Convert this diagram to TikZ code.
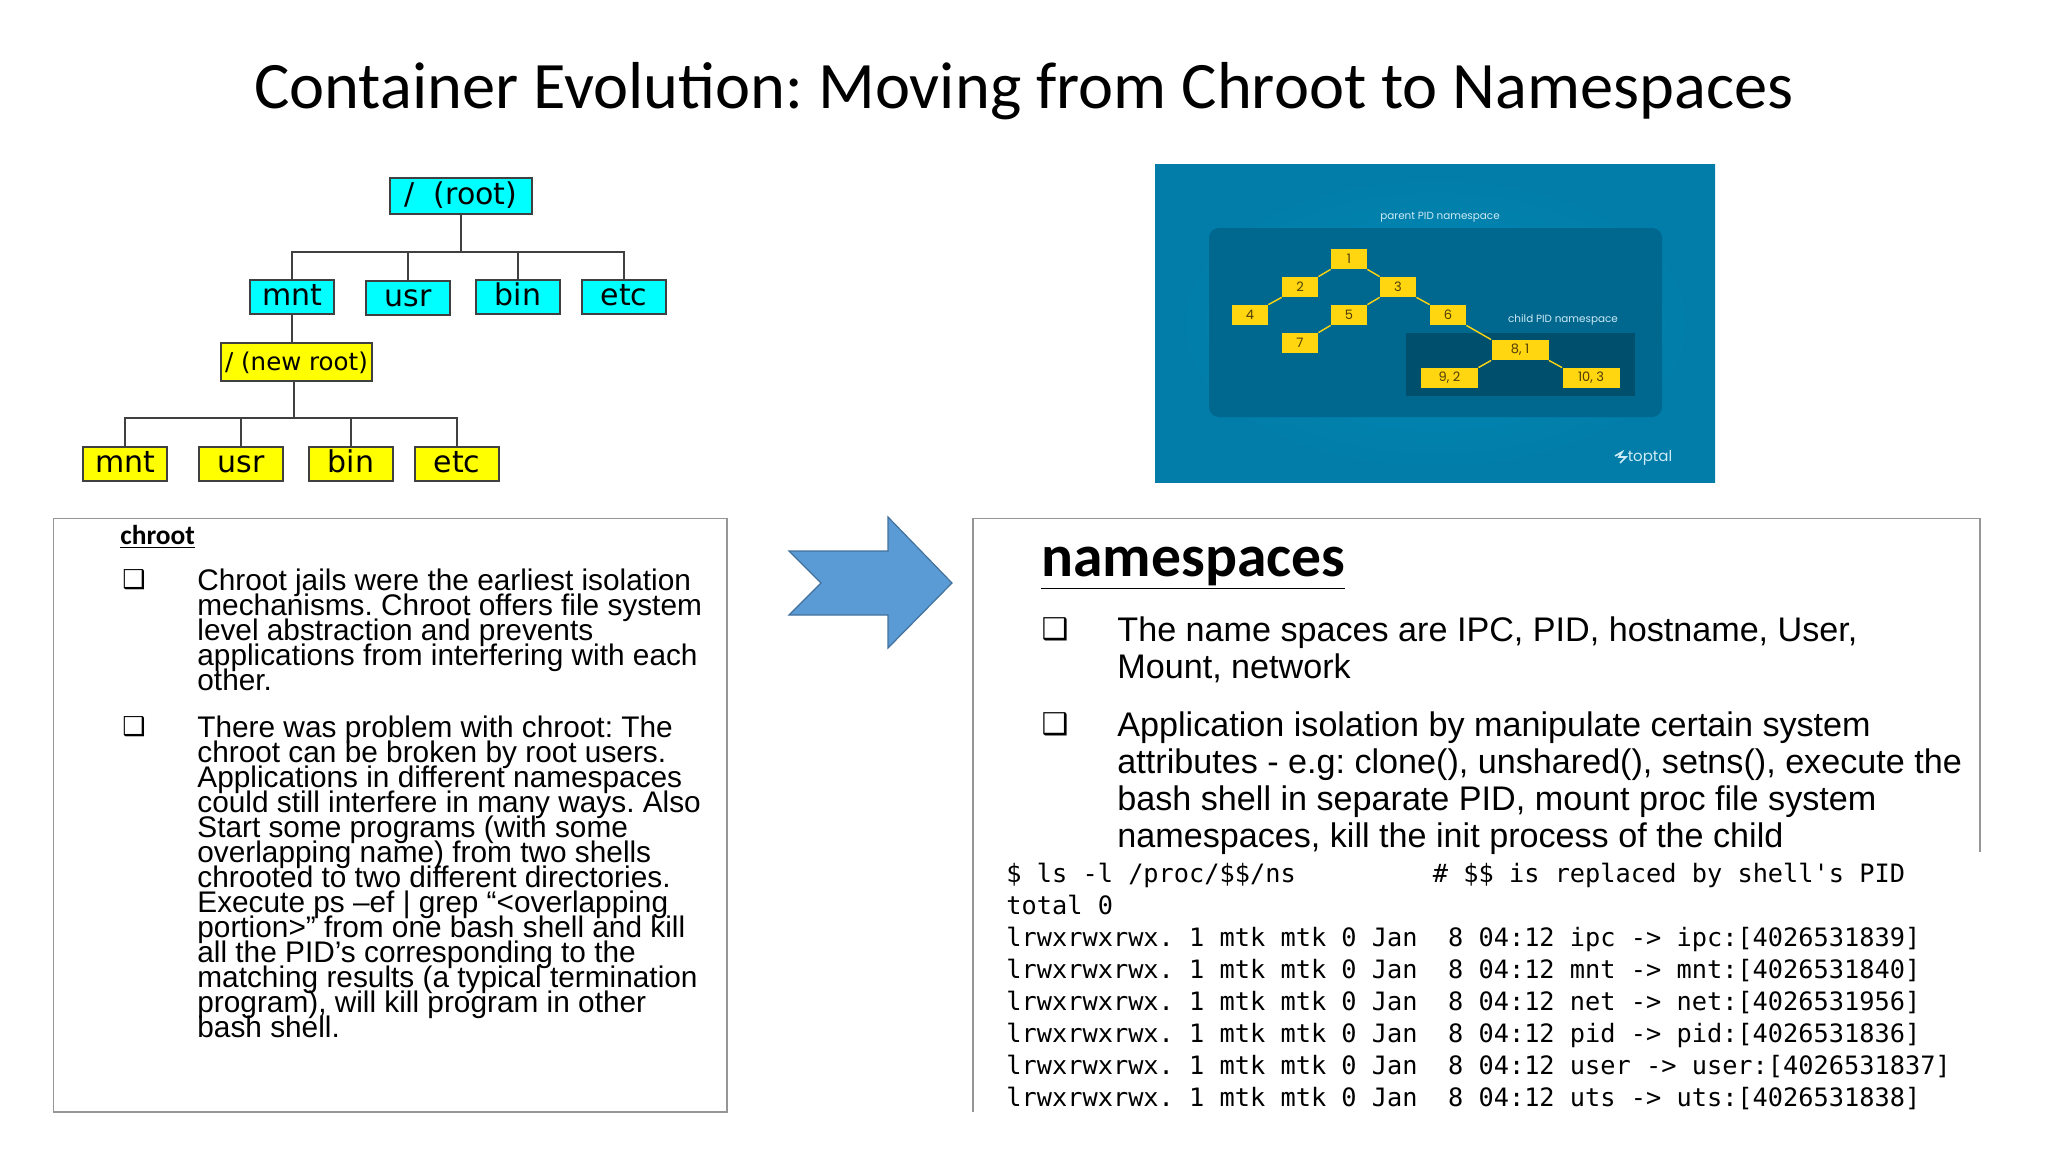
\documentclass[tikz,border=0pt]{standalone}
\usepackage{fontspec}
\usetikzlibrary{positioning}
\setmainfont{Liberation Sans}
\newfontfamily\titlefont{Carlito}
\newfontfamily\treefont{DejaVu Sans}
\newfontfamily\symfont{DejaVu Sans}
\newfontfamily\termfont{DejaVu Sans Mono}
\newfontfamily\pidfont{Poppins}
\newcommand{\tightlines}{\lineskiplimit=-20pt\relax}
\frenchspacing
\definecolor{treecyan}{RGB}{0, 255, 255}
\definecolor{treeyellow}{RGB}{255, 255, 0}
\definecolor{framegray}{RGB}{150, 150, 150}
\definecolor{arrowblue}{RGB}{91, 155, 213}
\definecolor{arrowedge}{RGB}{65, 113, 156}
\definecolor{pidback}{RGB}{0, 138, 182}
\definecolor{pidcorner}{RGB}{2, 124, 168}
\definecolor{pidpanel}{RGB}{0, 103, 143}
\definecolor{pidchild}{RGB}{0, 79, 109}
\definecolor{pidyellow}{RGB}{255, 214, 15}
\definecolor{pidtext}{RGB}{80, 60, 10}
\definecolor{pidlabel}{RGB}{205, 235, 245}

\begin{document}
\begin{tikzpicture}[
    x=0.5pt, y=-0.5pt,
    treebox/.style={draw=black!75, line width=0.8pt, inner sep=0pt, minimum width=42pt, minimum height=17pt, text height=11pt, text depth=3pt, font=\treefont\frenchspacing\fontsize{15}{18}\selectfont},
    cyanbox/.style={treebox, fill=treecyan},
    yellowbox/.style={treebox, fill=treeyellow},
    treeline/.style={draw=black!75, line width=0.8pt},
    pidbox/.style={fill=pidyellow, inner sep=0pt, minimum width=18pt, minimum height=10pt, text=pidtext, font=\pidfont\fontsize{6.5}{7}\selectfont},
    pidwide/.style={pidbox, minimum width=28.5pt},
    pidline/.style={draw=pidyellow, line width=0.7pt},
    pidcaption/.style={text=pidlabel, inner sep=0pt, font=\pidfont\fontsize{5.2}{6}\selectfont},
    bodytext/.style={anchor=north west, align=left, inner sep=0pt, font=\frenchspacing\fontsize{14.9}{12.5}\selectfont\tightlines},
    nstext/.style={anchor=north west, align=left, inner sep=0pt, font=\frenchspacing\fontsize{17.07}{18.5}\selectfont\tightlines},
    bulletmark/.style={inner sep=0pt, font=\symfont\bfseries\fontsize{13}{14}\selectfont}
]
    \useasboundingbox (0,0) rectangle (2048,1152);

    % title
    \node[font=\titlefont\frenchspacing\fontsize{33.2}{38}\selectfont, inner sep=0pt] (title) at (1024,91) {Container Evolution: Moving from Chroot to Namespaces};

    % root tree
    \node[cyanbox, minimum width=71pt, minimum height=18pt] (root) at (461,196) {/\ \ (root)};
    \node[cyanbox] (mnta) at (292,297) {mnt};
    \node[cyanbox] (usra) at (408,298) {usr};
    \node[cyanbox] (bina) at (518,297) {bin};
    \node[cyanbox] (etca) at (624,297) {etc};
    \coordinate (rootbar) at (461,252);
    \draw[treeline] (root.south) -- (rootbar);
    \draw[treeline] (mnta.north) |- (rootbar);
    \draw[treeline] (usra.north) |- (rootbar);
    \draw[treeline] (bina.north) |- (rootbar);
    \draw[treeline] (etca.north) |- (rootbar);

    % new root tree
    \node[yellowbox, minimum width=75.5pt, minimum height=19pt, font=\treefont\fontsize{12.25}{15}\selectfont] (newroot) at (296.5,362) {/ (new root)};
    \node[yellowbox] (mntb) at (125,464) {mnt};
    \node[yellowbox] (usrb) at (241,464) {usr};
    \node[yellowbox] (binb) at (351,464) {bin};
    \node[yellowbox] (etcb) at (457,464) {etc};
    \coordinate (newbar) at (294,418);
    \draw[treeline] (mnta.south) -- (newroot.north -| mnta.south);
    \draw[treeline] (newroot.south -| newbar) -- (newbar);
    \draw[treeline] (mntb.north) |- (newbar);
    \draw[treeline] (usrb.north) |- (newbar);
    \draw[treeline] (binb.north) |- (newbar);
    \draw[treeline] (etcb.north) |- (newbar);

    % pid namespace picture
    \shade[inner color=pidback, outer color=pidcorner] (1155,164) rectangle (1715,482);
    \fill[pidpanel, rounded corners=5pt] (1209,228) rectangle (1662,417);
    \fill[pidchild] (1406,333) rectangle (1635,396);
    \node[pidcaption] (parentlabel) at (1440,217) {parent PID namespace};
    \node[pidcaption] (childlabel) at (1563,320) {child PID namespace};
    \node[pidbox] (p1) at (1349,259) {1};
    \node[pidbox] (p2) at (1300,287) {2};
    \node[pidbox] (p3) at (1398,287) {3};
    \node[pidbox] (p4) at (1250,315) {4};
    \node[pidbox] (p5) at (1349,315) {5};
    \node[pidbox] (p6) at (1448,315) {6};
    \node[pidbox] (p7) at (1300,343) {7};
    \node[pidwide] (p8) at (1520,350) {8, 1};
    \node[pidwide] (p9) at (1449.5,378) {9, 2};
    \node[pidwide] (p10) at (1591,378) {10, 3};
    \draw[pidline] (p1.south west) -- (p2.north east);
    \draw[pidline] (p1.south east) -- (p3.north west);
    \draw[pidline] (p2.south west) -- (p4.north east);
    \draw[pidline] (p3.south west) -- (p5.north east);
    \draw[pidline] (p3.south east) -- (p6.north west);
    \draw[pidline] (p5.south west) -- (p7.north east);
    \draw[pidline] (p6.south east) -- (p8.north west);
    \draw[pidline] (p8.south west) -- (p9.north east);
    \draw[pidline] (p8.south east) -- (p10.north west);
    \node[text=pidlabel, inner sep=0pt, font=\pidfont\fontsize{7.5}{9}\selectfont] (toptal) at (1650,458) {toptal};
    \draw[pidlabel, line width=0.8pt] (1615,456) -- (1622,452) -- (1619,457) -- (1626,457) -- (1620,463);

    % chroot box
    \draw[framegray, line width=0.6pt] (53.5,518.5) rectangle (727,1112);
    \node[anchor=base west, inner sep=0pt, font=\titlefont\bfseries\fontsize{13.7}{16}\selectfont] (chroothead) at (120,544) {\underline{chroot}};
    \node[bulletmark] (chrootmarka) at (134,580) {❑};
    \node[bodytext] (chroota) at (197,568) {Chroot jails were the earliest isolation\\mechanisms. Chroot offers file system\\level abstraction and prevents\\applications from interfering with each\\other.};
    \node[bulletmark] (chrootmarkb) at (134,727) {❑};
    \node[bodytext] (chrootb) at (197,715) {There was problem with chroot: The\\chroot can be broken by root users.\\Applications in different namespaces\\could still interfere in many ways. Also\\Start some programs (with some\\overlapping name) from two shells\\chrooted to two different directories.\\Execute ps –ef | grep “<overlapping\\portion>” from one bash shell and kill\\all the PID’s corresponding to the\\matching results (a typical termination\\program), will kill program in other\\bash shell.};

    % arrow
    \draw[arrowedge, fill=arrowblue, line width=0.6pt] (789,551) -- (888,551) -- (888,517) -- (952,583) -- (888,648) -- (888,615) -- (789,615) -- (821,583) -- cycle;

    % namespaces box
    \draw[framegray, line width=0.6pt] (973,1112) -- (973,518.5) -- (1980,518.5) -- (1980,852);
    \node[anchor=base west, inner sep=0pt, font=\titlefont\bfseries\fontsize{29.8}{34}\selectfont] (nshead) at (1041,576) {\underline{namespaces}};
    \node[bulletmark, font=\symfont\bfseries\fontsize{15}{16}\selectfont] (nsmarka) at (1055,629) {❑};
    \node[nstext] (nsa) at (1117,616) {The name spaces are IPC, PID, hostname, User,\\Mount, network};
    \node[bulletmark, font=\symfont\bfseries\fontsize{15}{16}\selectfont] (nsmarkb) at (1055,724) {❑};
    \node[nstext] (nsb) at (1117,711) {Application isolation by manipulate certain system\\attributes - e.g: clone(), unshared(), setns(), execute the\\bash shell in separate PID, mount proc file system\\namespaces, kill the init process of the child};

    % terminal output
    \node[anchor=north west, align=left, inner sep=0pt, font=\termfont\frenchspacing\fontsize{12.65}{15.95}\selectfont\tightlines] (terminal) at (1006,863) {\$ ls -l /proc/\$\$/ns\ \ \ \ \ \ \ \ \ \# \$\$ is replaced by shell's PID\\total 0\\lrwxrwxrwx. 1 mtk mtk 0 Jan\ \ 8 04:12 ipc -> ipc:[4026531839]\\lrwxrwxrwx. 1 mtk mtk 0 Jan\ \ 8 04:12 mnt -> mnt:[4026531840]\\lrwxrwxrwx. 1 mtk mtk 0 Jan\ \ 8 04:12 net -> net:[4026531956]\\lrwxrwxrwx. 1 mtk mtk 0 Jan\ \ 8 04:12 pid -> pid:[4026531836]\\lrwxrwxrwx. 1 mtk mtk 0 Jan\ \ 8 04:12 user -> user:[4026531837]\\lrwxrwxrwx. 1 mtk mtk 0 Jan\ \ 8 04:12 uts -> uts:[4026531838]};
\end{tikzpicture}
\end{document}
